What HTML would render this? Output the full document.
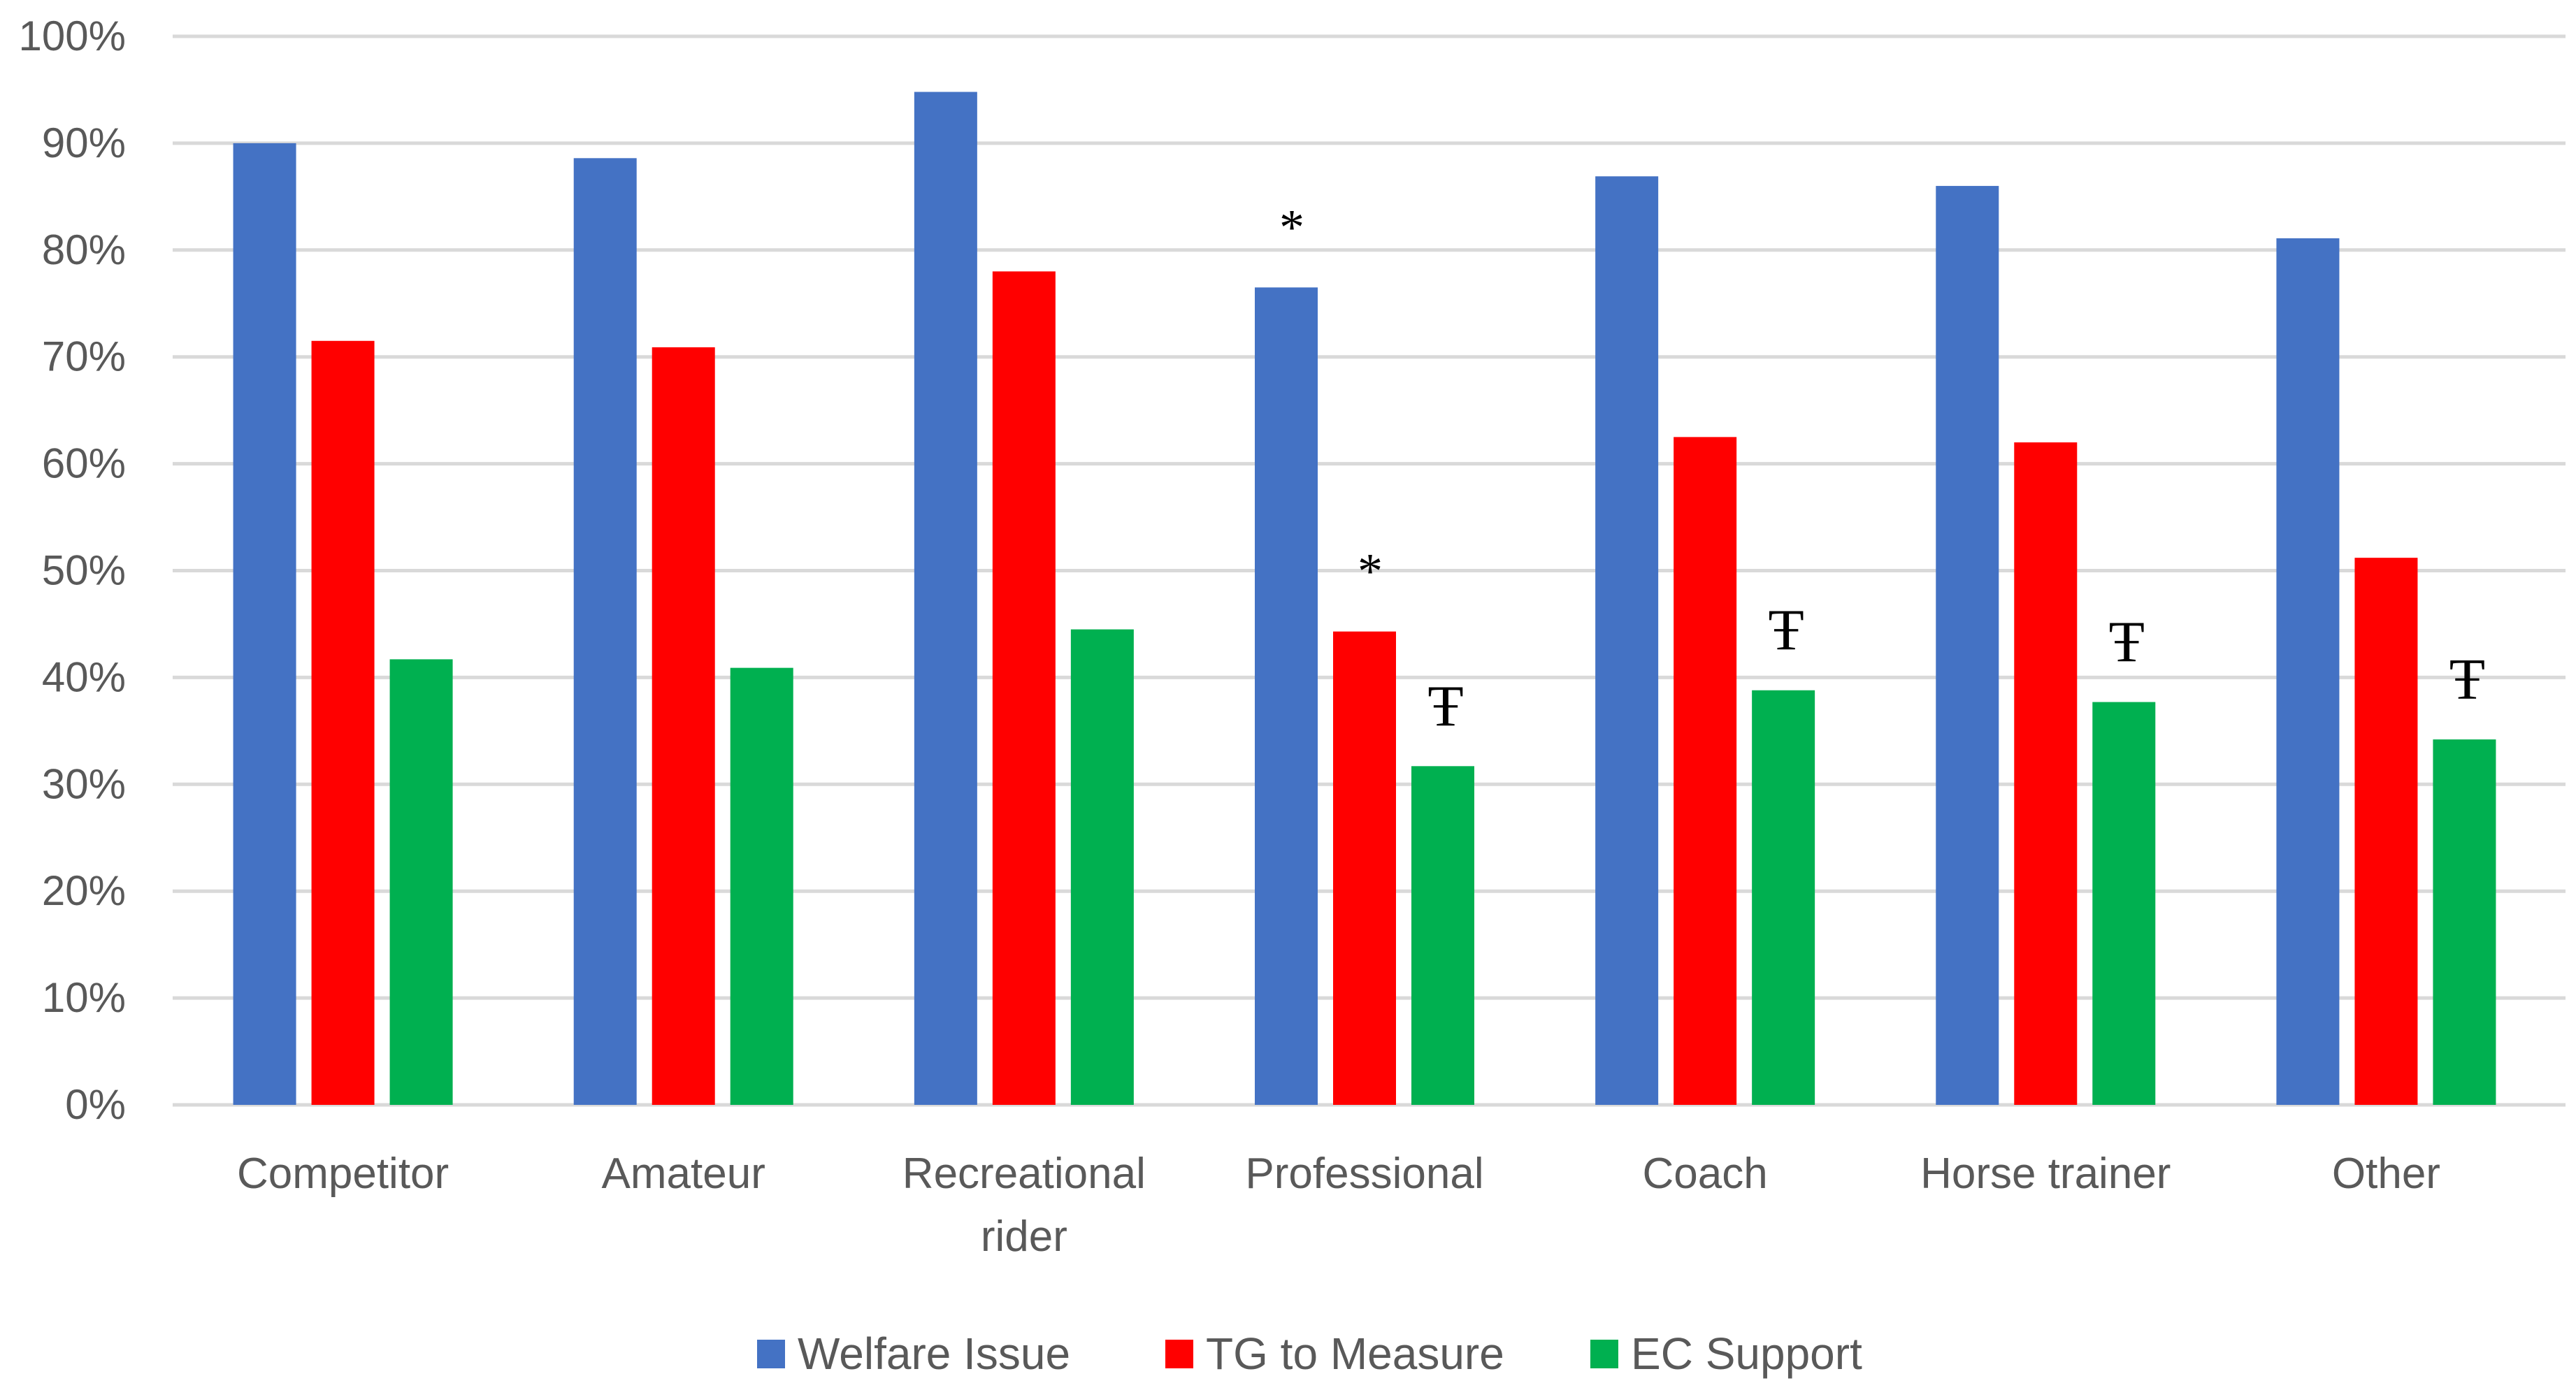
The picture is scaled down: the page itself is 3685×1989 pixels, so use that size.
<!DOCTYPE html>
<html><head><meta charset="utf-8"><style>
html,body{margin:0;padding:0;background:#fff;}
svg{display:block;}
text{font-family:"Liberation Sans",sans-serif;}
</style></head><body>
<svg id="chart" width="3685" height="1989" viewBox="0 0 3685 1989" xmlns="http://www.w3.org/2000/svg">
<g id="grid"></g>
<g id="yaxis"></g>
<g id="bars"></g>
<g id="marks"></g>
<g id="xaxis"></g>
<g id="legend"></g>
</svg>
<script>
const categories = [["Competitor"],["Amateur"],["Recreational","rider"],["Professional"],["Coach"],["Horse trainer"],["Other"]];
const welfareIssue = [90.0, 88.6, 94.8, 76.5, 86.9, 86.0, 81.1];
const tgToMeasure = [71.5, 70.9, 78.0, 44.3, 62.5, 62.0, 51.2];
const ecSupport = [41.7, 40.9, 44.5, 31.7, 38.8, 37.7, 34.2];
const seriesNames = ["Welfare Issue","TG to Measure","EC Support"];
const yTicks = [0,10,20,30,40,50,60,70,80,90,100];
const annotations = [[3,0,"*"],[3,1,"*"],[3,2,"Ŧ"],[4,2,"Ŧ"],[5,2,"Ŧ"],[6,2,"Ŧ"]];

const NS="http://www.w3.org/2000/svg";
const colors=["#4472C4","#FF0000","#00B050"];
const left=247,right=3657,y0=1581,y100=52;
const catW=(right-left)/categories.length;
const barW=90,step=112;
const y=v=>y0-(y0-y100)*v/100;
const xBar=(i,s)=>left+catW*(i+0.5)-(step*2+barW)/2+s*step;
function mk(tag,attrs,parent){const e=document.createElementNS(NS,tag);for(const k in attrs)e.setAttribute(k,attrs[k]);parent.appendChild(e);return e;}
const G=id=>document.getElementById(id);

yTicks.forEach(t=>{
  const l=mk('line',{x1:left,x2:3670,y1:y(t),y2:y(t),stroke:'#d9d9d9','stroke-width':5},G('grid'));
  
  
  const tx=mk('text',{x:180,y:y(t)+20,'text-anchor':'end','font-size':60,fill:'#595959'},G('yaxis'));
  tx.textContent=t+'%';
  
  
});

const series=[welfareIssue,tgToMeasure,ecSupport];
series.forEach((vals,s)=>{
  vals.forEach((v,i)=>{
    const r=mk('rect',{x:xBar(i,s),y:y(v),width:barW,height:y0-y(v),fill:colors[s]},G('bars'));
    
    
  });
});

annotations.forEach(a=>{
  const [i,s,ch]=a;
  const v=series[s][i];
  const t=mk('text',{x:xBar(i,s)+barW/2+(ch==="*"?8:4),y:y(v)-(ch==="*"?62:58),'text-anchor':'middle','font-size':ch==="*"?72:84,fill:'#000',style:'font-family:"Liberation Serif",serif'},G('marks'));
  t.textContent=ch;
  
  
});

categories.forEach((lines,i)=>{
  lines.forEach((ln,j)=>{
    const t=mk('text',{x:left+catW*(i+0.5),y:1700+j*90,'text-anchor':'middle','font-size':62,fill:'#595959'},G('xaxis'));
    t.textContent=ln;
    
    
  });
});

const legendX=[1083,1667,2275];
seriesNames.forEach((n,s)=>{
  const r=mk('rect',{x:legendX[s],y:1917,width:40,height:41,fill:colors[s]},G('legend'));
  
  
  const t=mk('text',{x:legendX[s]+58,y:1959,'font-size':64,fill:'#595959'},G('legend'));
  t.textContent=n;
  
  
});
</script>
</body></html>
